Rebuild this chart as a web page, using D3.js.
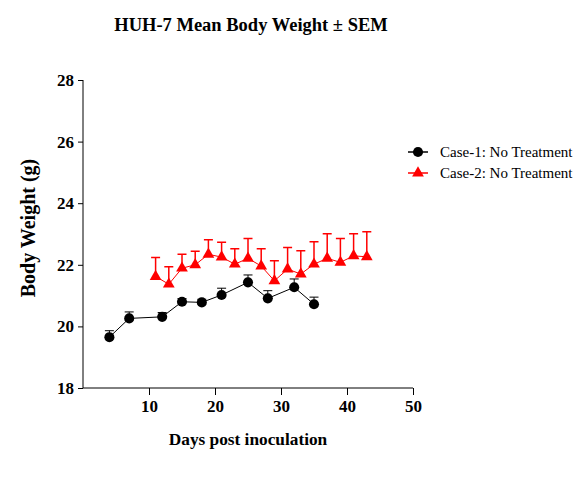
<!DOCTYPE html>
<html>
<head>
<meta charset="utf-8">
<script src="https://cdn.jsdelivr.net/npm/d3@7"></script>
<style>
  html, body { margin: 0; padding: 0; background: #fff; }
  svg { display: block; }
  text { font-family: "Liberation Serif", "Times New Roman", serif; }
</style>
</head>
<body>
<svg id="chart" width="583" height="485"></svg>
<script>
// ---- Data ----
const case1Days = [4, 7, 12, 15, 18, 21, 25, 28, 32, 35];
const case1Mean = [19.65, 20.26, 20.31, 20.80, 20.78, 21.02, 21.43, 20.91, 21.27, 20.72];
const case1Sem  = [0.21, 0.21, 0.14, 0.10, 0.10, 0.22, 0.24, 0.25, 0.27, 0.23];

const case2Days = [11, 13, 15, 17, 19, 21, 23, 25, 27, 29, 31, 33, 35, 37, 39, 41, 43];
const case2Mean = [21.62, 21.37, 21.89, 22.00, 22.34, 22.25, 22.02, 22.21, 21.96, 21.48, 21.86, 21.70, 22.02, 22.21, 22.08, 22.29, 22.26];
const case2Sem  = [0.62, 0.57, 0.45, 0.44, 0.47, 0.48, 0.50, 0.64, 0.56, 0.65, 0.70, 0.76, 0.73, 0.80, 0.77, 0.72, 0.81];

const xMajorTicks = [10, 20, 30, 40, 50];
const yMajorTicks = [18, 20, 22, 24, 26, 28];
const seriesNames = ["Case-1: No Treatment", "Case-2: No Treatment"];
const seriesColors = ["#000000", "#ff0000"];

const titleText = "HUH-7 Mean Body Weight \u00b1 SEM";
const xLabel = "Days post inoculation";
const yLabel = "Body Weight (g)";

// ---- Build ----
const svg = d3.select("#chart");
const x = d3.scaleLinear().domain([0, 50]).range([83, 413]);
const y = d3.scaleLinear().domain([18, 28]).range([388, 80]);

// minor ticks
const xMinor = d3.range(0, 51, 2).filter(v => v % 10 !== 0);
const yMinor = d3.range(18, 28.01, 1).filter(v => v % 2 !== 0);

// X axis
const gx = svg.append("g").attr("transform", `translate(0,${y(18)})`);
gx.call(d3.axisBottom(x).tickValues(xMinor).tickSize(4).tickFormat(""));
gx.call(d3.axisBottom(x).tickValues(xMajorTicks).tickSize(7).tickPadding(5).tickFormat(d3.format("d")));
gx.selectAll(".domain").attr("d", `M${x(0)},0H${x(50)}`).attr("stroke", "#000").attr("stroke-width", 1);
gx.selectAll("text").attr("font-size", 17).attr("font-weight", "bold").attr("fill", "#000")
  .style("font-family", '"Liberation Serif", serif');

// Y axis
const gy = svg.append("g").attr("transform", `translate(${x(0)},0)`);
gy.call(d3.axisLeft(y).tickValues(yMinor).tickSize(3).tickFormat(""));
gy.call(d3.axisLeft(y).tickValues(yMajorTicks).tickSize(5).tickPadding(4).tickFormat(d3.format("d")));
gy.selectAll(".domain").attr("d", `M0,${y(28)}V${y(18)}`).attr("stroke", "#000").attr("stroke-width", 1);
gy.selectAll("text").attr("font-size", 17).attr("font-weight", "bold").attr("fill", "#000")
  .style("font-family", '"Liberation Serif", serif');

// Title & labels
svg.append("text").attr("x", 251).attr("y", 31).attr("text-anchor", "middle")
  .attr("font-size", 18.5).attr("font-weight", "bold").text(titleText);
svg.append("text").attr("x", 248).attr("y", 445).attr("text-anchor", "middle")
  .attr("font-size", 17.3).attr("font-weight", "bold").text(xLabel);
svg.append("text").attr("transform", `translate(35,228) rotate(-90)`)
  .attr("text-anchor", "middle").attr("font-size", 20).attr("font-weight", "bold").text(yLabel);

const series = [
  { days: case1Days, mean: case1Mean, sem: case1Sem, color: seriesColors[0], shape: d3.symbolCircle, size: 80, name: seriesNames[0], ew: 1 },
  { days: case2Days, mean: case2Mean, sem: case2Sem, color: seriesColors[1], shape: d3.symbolTriangle, size: 60, name: seriesNames[1], ew: 1.5 }
];

const line = d3.line().x(d => x(d[0])).y(d => y(d[1]));

series.forEach(s => {
  const pts = s.days.map((d, i) => [d, s.mean[i], s.sem[i]]);
  const g = svg.append("g");
  g.append("path").attr("d", line(pts)).attr("fill", "none").attr("stroke", s.color).attr("stroke-width", 1);
  // error bars (upper only)
  g.selectAll(".eb").data(pts).enter().append("path")
    .attr("d", d => `M${x(d[0])},${y(d[1])}V${y(d[1] + d[2])}M${x(d[0]) - 4.5},${y(d[1] + d[2])}H${x(d[0]) + 4.5}`)
    .attr("stroke", s.color).attr("stroke-width", s.ew).attr("fill", "none");
  g.selectAll(".mk").data(pts).enter().append("path")
    .attr("d", d3.symbol().type(s.shape).size(s.size))
    .attr("transform", d => `translate(${x(d[0])},${y(d[1])})`)
    .attr("fill", s.color);
});

// Legend
const legend = svg.append("g");
series.forEach((s, i) => {
  const ly = 152 + i * 21;
  legend.append("line").attr("x1", 408).attr("x2", 428).attr("y1", ly).attr("y2", ly)
    .attr("stroke", s.color).attr("stroke-width", 1.5);
  legend.append("path").attr("d", d3.symbol().type(s.shape).size(s.size))
    .attr("transform", `translate(418,${ly})`).attr("fill", s.color);
  legend.append("text").attr("x", 440).attr("y", ly + 5).attr("font-size", 15).attr("fill", "#000").text(s.name);
});
</script>
</body>
</html>
